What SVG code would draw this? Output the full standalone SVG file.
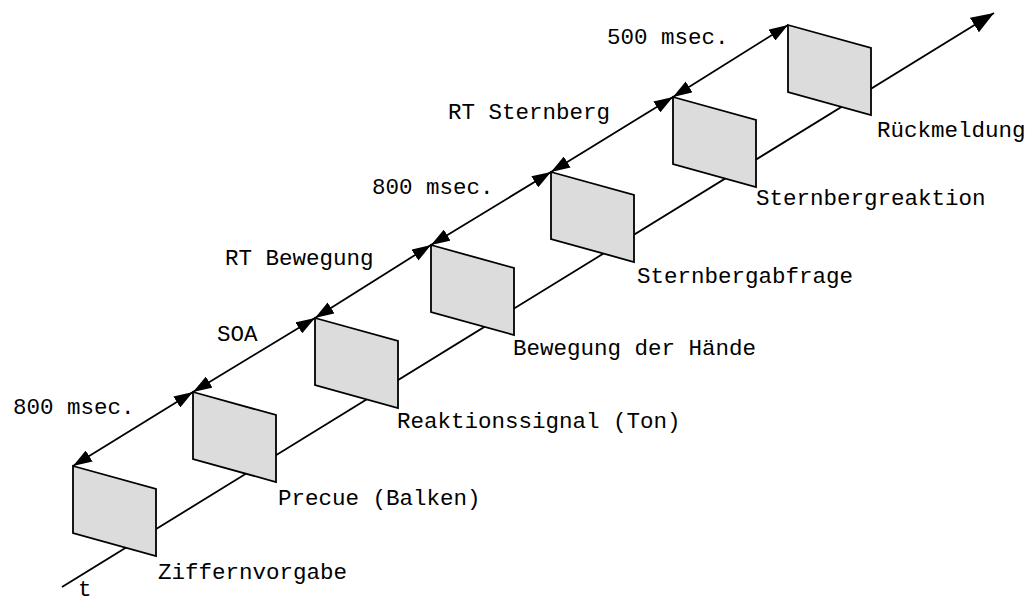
<svg xmlns="http://www.w3.org/2000/svg" width="1036" height="601" viewBox="0 0 1036 601">
<style>
.panel{fill:#dcdcdc;stroke:#000;stroke-width:1.8;stroke-linejoin:miter}
.ln{stroke:#000;stroke-width:1.8;fill:none}
text{font-family:"Liberation Mono","Courier New",monospace;font-size:22.5px;fill:#000}
</style>
<defs>
<marker id="ah" viewBox="0 0 19 13" refX="19" refY="6.5" markerWidth="19" markerHeight="13" markerUnits="userSpaceOnUse" orient="auto-start-reverse">
<path d="M0,0 L19,6.5 L0,13 z" fill="#000"/>
</marker>
<marker id="ahBig" viewBox="0 0 23 17" refX="23" refY="8.5" markerWidth="23" markerHeight="17" markerUnits="userSpaceOnUse" orient="auto">
<path d="M0,0 L23,8.5 L0,17 z" fill="#000"/>
</marker>
</defs>
<g id="connectors">
<line id="axis" class="ln" x1="62" y1="587" x2="994" y2="13" marker-end="url(#ahBig)"/>
<line class="ln" x1="73" y1="466" x2="193" y2="392" marker-start="url(#ah)" marker-end="url(#ah)"/>
<line class="ln" x1="193" y1="392" x2="315" y2="318" marker-start="url(#ah)" marker-end="url(#ah)"/>
<line class="ln" x1="315" y1="318" x2="431" y2="245" marker-start="url(#ah)" marker-end="url(#ah)"/>
<line class="ln" x1="431" y1="245" x2="551" y2="172" marker-start="url(#ah)" marker-end="url(#ah)"/>
<line class="ln" x1="551" y1="172" x2="673" y2="97" marker-start="url(#ah)" marker-end="url(#ah)"/>
<line class="ln" x1="673" y1="97" x2="788" y2="25" marker-start="url(#ah)" marker-end="url(#ah)"/>
</g>
<g id="p1"><path class="panel" d="M73,466 L156,489 L156,556 L73,533 Z"/><text x="158" y="579">Ziffernvorgabe</text></g>
<g id="p2"><path class="panel" d="M193,392 L276,415 L276,482 L193,459 Z"/><text x="278" y="505">Precue (Balken)</text></g>
<g id="p3"><path class="panel" d="M315,318 L398,341 L398,408 L315,385 Z"/><text x="397" y="428">Reaktionssignal (Ton)</text></g>
<g id="p4"><path class="panel" d="M431,245 L514,268 L514,335 L431,312 Z"/><text x="513" y="355">Bewegung der Hände</text></g>
<g id="p5"><path class="panel" d="M551,172 L634,195 L634,262 L551,239 Z"/><text x="637" y="283">Sternbergabfrage</text></g>
<g id="p6"><path class="panel" d="M673,97 L756,120 L756,187 L673,164 Z"/><text x="756" y="205">Sternbergreaktion</text></g>
<g id="p7"><path class="panel" d="M788,25 L871,48 L871,115 L788,92 Z"/><text x="877" y="137">Rückmeldung</text></g>
<g id="labels">
<text x="13" y="414">800 msec.</text>
<text x="217" y="341">SOA</text>
<text x="225" y="265">RT Bewegung</text>
<text x="372" y="194">800 msec.</text>
<text x="448" y="119">RT Sternberg</text>
<text x="607" y="44">500 msec.</text>
<text x="78" y="596">t</text>
</g>
</svg>
